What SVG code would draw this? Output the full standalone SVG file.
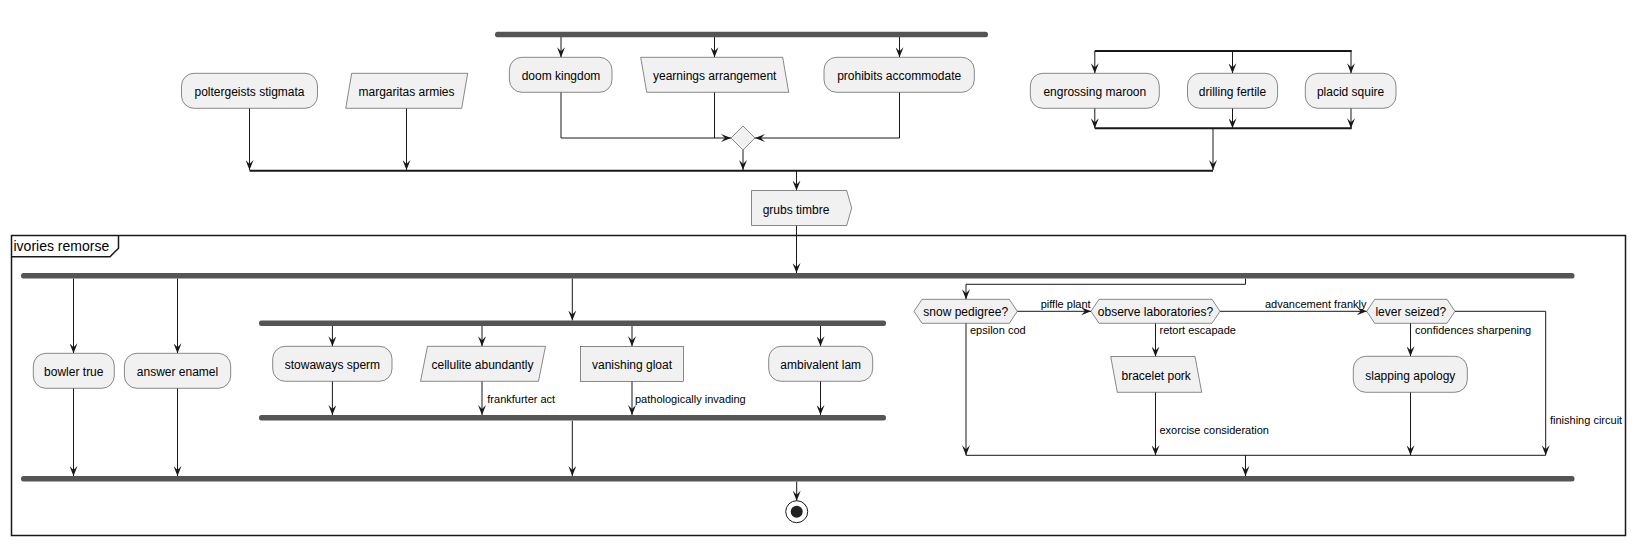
<svg xmlns="http://www.w3.org/2000/svg" width="1636" height="545" viewBox="0 0 1636 545">
<defs>
<marker id="ah" viewBox="0 0 10 8" refX="10" refY="4" markerWidth="10" markerHeight="8" orient="auto" markerUnits="userSpaceOnUse"><path d="M0,0 L10,4 L0,8 L4,4 Z" fill="#181818"/></marker>
<style>
.box{fill:#F1F1F1;stroke:#181818;stroke-width:0.5}
.bar{fill:#555555;stroke:none}
.t{font-family:"Liberation Sans",Arial,sans-serif;font-size:12px;fill:#000;text-anchor:middle}
.lb{font-family:"Liberation Sans",Arial,sans-serif;font-size:11px;fill:#000}
.c{fill:none;stroke:#181818;stroke-width:1}
.ca{fill:none;stroke:#181818;stroke-width:1;marker-end:url(#ah)}
.m{fill:none;stroke:#181818;stroke-width:2}
.frame{fill:none;stroke:#181818;stroke-width:1.5}
</style>
</defs>
<rect width="1636" height="545" fill="#FFFFFF"/>

<g id="frame-ivories">
<rect class="frame" x="11.5" y="235.5" width="1614" height="300"/>
<path class="frame" d="M11.5,256.7 L110,256.7 L118.5,248.3 L118.5,235.5" fill="#FFFFFF"/>
<text x="13.5" y="251" style="font-family:'Liberation Sans',Arial,sans-serif;font-size:14px">ivories remorse</text>
</g>

<g id="connectors">
<!-- top fork -->
<path class="ca" d="M561,37 L561,57.3"/>
<path class="ca" d="M714.5,37 L714.5,57.3"/>
<path class="ca" d="M899.5,37 L899.5,57.3"/>
<path class="ca" d="M561,92.3 L561,138 L731,138"/>
<path class="c" d="M714.5,92.3 L714.5,138"/>
<path class="ca" d="M899.5,92.3 L899.5,138 L755,138"/>
<path class="ca" d="M743,150 L743,170"/>
<path class="ca" d="M249.5,108.3 L249.5,170"/>
<path class="ca" d="M406.5,108.3 L406.5,170"/>
<!-- split right -->
<path class="m" d="M1094.8,51 L1351.7,51"/>
<path class="ca" d="M1094.8,51 L1094.8,73.3"/>
<path class="ca" d="M1232.5,51 L1232.5,73.3"/>
<path class="ca" d="M1351,51 L1351,73.3"/>
<path class="ca" d="M1094.8,108.3 L1094.8,128.3"/>
<path class="ca" d="M1232.5,108.3 L1232.5,128.3"/>
<path class="ca" d="M1351,108.3 L1351,128.3"/>
<path class="m" d="M1094.8,128.3 L1351.7,128.3"/>
<path class="ca" d="M1213,128.3 L1213,170"/>
<!-- merge -->
<path class="m" d="M249.5,170.7 L1213,170.7"/>
<path class="ca" d="M796.5,170.7 L796.5,190.5"/>
<path class="ca" d="M796.5,225.5 L796.5,273"/>
<!-- big fork -->
<path class="ca" d="M73.5,278.5 L73.5,353.3"/>
<path class="ca" d="M177.5,278.5 L177.5,353.3"/>
<path class="ca" d="M572.3,278.5 L572.3,320.5"/>
<path class="ca" d="M1245.5,278.5 L1245.5,284.3 L966,284.3 L966,299.3"/>
<!-- inner fork -->
<path class="ca" d="M332.4,326 L332.4,346.3"/>
<path class="ca" d="M482,326 L482,346.3"/>
<path class="ca" d="M632,326 L632,346.3"/>
<path class="ca" d="M820.5,326 L820.5,346.3"/>
<path class="ca" d="M332.4,381.3 L332.4,415"/>
<path class="ca" d="M482,381.3 L482,415"/>
<path class="ca" d="M632,381.3 L632,415"/>
<path class="ca" d="M820.5,381.3 L820.5,415"/>
<path class="ca" d="M572.3,420.7 L572.3,476"/>
<path class="ca" d="M73.5,388.3 L73.5,476"/>
<path class="ca" d="M177.5,388.3 L177.5,476"/>
<!-- decisions -->
<path class="ca" d="M1017.3,311.3 L1091,311.3"/>
<path class="ca" d="M1220,311.3 L1366.7,311.3"/>
<path class="ca" d="M1455,311.3 L1545.7,311.3 L1545.7,455.3"/>
<path class="ca" d="M966,323.3 L966,455.3"/>
<path class="ca" d="M1155.5,323.3 L1155.5,356.5"/>
<path class="ca" d="M1155.5,392.3 L1155.5,455.3"/>
<path class="ca" d="M1410.5,323.3 L1410.5,356.3"/>
<path class="ca" d="M1410.5,392.3 L1410.5,455.3"/>
<path class="c" d="M966,455.3 L1545.7,455.3"/>
<path class="ca" d="M1245.5,455.3 L1245.5,476"/>
<path class="ca" d="M796.7,481.5 L796.7,500.7"/>
<!-- labels -->
<text class="lb" x="1040.7" y="308.3">piffle plant</text>
<text class="lb" x="1265" y="308.3">advancement frankly</text>
<text class="lb" x="970" y="334.3">epsilon cod</text>
<text class="lb" x="1159.5" y="334.3">retort escapade</text>
<text class="lb" x="1415" y="334.3">confidences sharpening</text>
<text class="lb" x="1159.5" y="434">exorcise consideration</text>
<text class="lb" x="1550" y="423.5">finishing circuit</text>
<text class="lb" x="487.3" y="402.7">frankfurter act</text>
<text class="lb" x="635" y="402.7">pathologically invading</text>
</g>

<g id="bar-top"><rect class="bar" x="495" y="31.8" width="493" height="5.5" rx="2.5"/></g>
<g id="bar-fork"><rect class="bar" x="21" y="273" width="1553.5" height="5.5" rx="2.5"/></g>
<g id="bar-join"><rect class="bar" x="21" y="476" width="1553.5" height="5.5" rx="2.5"/></g>
<g id="bar-inner-fork"><rect class="bar" x="259" y="320.5" width="627" height="5.5" rx="2.5"/></g>
<g id="bar-inner-join"><rect class="bar" x="259" y="415" width="627" height="5.5" rx="2.5"/></g>

<g id="n-poltergeists"><rect class="box" x="181.5" y="73.3" width="136" height="35" rx="12.5"/><text class="t" x="249.5" y="96.3">poltergeists stigmata</text></g>
<g id="n-margaritas"><polygon class="box" points="351.7,73.3 467.7,73.3 461.7,108.3 345.7,108.3"/><text class="t" x="406.5" y="96.3">margaritas armies</text></g>
<g id="n-doom"><rect class="box" x="509.4" y="57.3" width="102.6" height="35" rx="12.5"/><text class="t" x="561" y="80.3">doom kingdom</text></g>
<g id="n-yearnings"><polygon class="box" points="640.7,57.3 782.7,57.3 788.7,92.3 646.7,92.3"/><text class="t" x="714.7" y="80.3">yearnings arrangement</text></g>
<g id="n-prohibits"><rect class="box" x="824" y="57.3" width="150.3" height="35" rx="12.5"/><text class="t" x="899.2" y="80.3">prohibits accommodate</text></g>
<g id="n-merge"><polygon class="box" points="743,126 755,138 743,150 731,138"/></g>
<g id="n-engrossing"><rect class="box" x="1030.3" y="73.3" width="129" height="35" rx="12.5"/><text class="t" x="1094.8" y="96.3">engrossing maroon</text></g>
<g id="n-drilling"><rect class="box" x="1187.5" y="73.3" width="90.1" height="35" rx="12.5"/><text class="t" x="1232.5" y="96.3">drilling fertile</text></g>
<g id="n-placid"><rect class="box" x="1305.3" y="73.3" width="90.7" height="35" rx="12.5"/><text class="t" x="1350.6" y="96.3">placid squire</text></g>
<g id="n-grubs"><polygon class="box" points="751.5,190.5 846.7,190.5 851.7,208 846.7,225.5 751.5,225.5"/><text class="t" x="796" y="213.5">grubs timbre</text></g>

<g id="n-bowler"><rect class="box" x="33.3" y="353.3" width="81" height="35" rx="12.5"/><text class="t" x="73.8" y="376.3">bowler true</text></g>
<g id="n-answer"><rect class="box" x="124.4" y="353.3" width="106.3" height="35" rx="12.5"/><text class="t" x="177.5" y="376.3">answer enamel</text></g>
<g id="n-stowaways"><rect class="box" x="272.7" y="346.3" width="119.3" height="35" rx="12.5"/><text class="t" x="332.4" y="369.3">stowaways sperm</text></g>
<g id="n-cellulite"><polygon class="box" points="427.5,346.3 545.5,346.3 538.5,381.3 420.5,381.3"/><text class="t" x="482.5" y="369.3">cellulite abundantly</text></g>
<g id="n-vanishing"><rect class="box" x="580.6" y="346.3" width="102.8" height="35"/><text class="t" x="632" y="369.3">vanishing gloat</text></g>
<g id="n-ambivalent"><rect class="box" x="768.7" y="346.3" width="104" height="35" rx="12.5"/><text class="t" x="820.7" y="369.3">ambivalent lam</text></g>
<g id="n-snow"><polygon class="box" points="914,311.3 922,299.3 1009.3,299.3 1017.3,311.3 1009.3,323.3 922,323.3"/><text class="t" x="965.7" y="315.8">snow pedigree?</text></g>
<g id="n-observe"><polygon class="box" points="1091,311.3 1099,299.3 1212,299.3 1220,311.3 1212,323.3 1099,323.3"/><text class="t" x="1155.5" y="315.8">observe laboratories?</text></g>
<g id="n-lever"><polygon class="box" points="1366.7,311.3 1374.7,299.3 1447,299.3 1455,311.3 1447,323.3 1374.7,323.3"/><text class="t" x="1410.8" y="315.8">lever seized?</text></g>
<g id="n-bracelet"><polygon class="box" points="1110.7,356.5 1195,356.5 1201.7,392.3 1117.3,392.3"/><text class="t" x="1156.2" y="379.5">bracelet pork</text></g>
<g id="n-slapping"><rect class="box" x="1353.3" y="356.3" width="114" height="36" rx="12.5"/><text class="t" x="1410.3" y="379.5">slapping apology</text></g>
<g id="n-end"><circle cx="796.7" cy="511.7" r="11" fill="#FFFFFF" stroke="#181818" stroke-width="1"/><circle cx="796.7" cy="511.7" r="6" fill="#222222"/></g>
</svg>
